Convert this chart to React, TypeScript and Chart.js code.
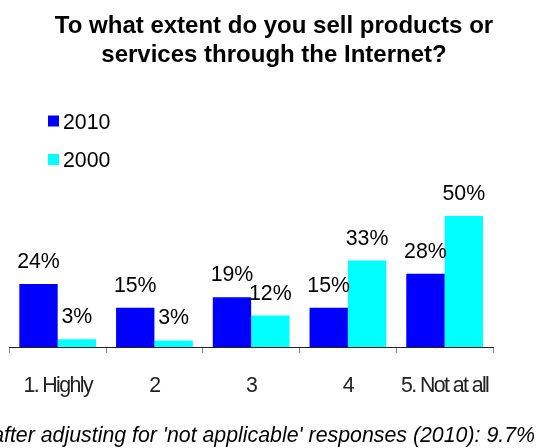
import React, { useEffect, useRef } from "react";
import { Chart, registerables } from "chart.js";

Chart.register(...registerables);

const categories = ["1. Highly", "2", "3", "4", "5. Not at all"];
const seriesLabels = ["2010", "2000"];
const values2010 = [24, 15, 19, 15, 28];
const values2000 = [3, 2.5, 12, 33, 50];
const titleLines = ["To what extent do you sell products or", "services through the Internet?"];
const footnote = "after adjusting for 'not applicable' responses (2010): 9.7%";

const SANS = '"Liberation Sans", Arial, sans-serif';

const decorPlugin = {
  id: "decor",
  beforeDraw(chart: any) {
    // narrow look for the category labels (reference uses a condensed face)
    (chart.ctx as any).letterSpacing = "-1.6px";
  },
  afterDraw(chart: any) {
    const ctx = chart.ctx as CanvasRenderingContext2D;
    ctx.save();
    (ctx as any).letterSpacing = "0px";
    ctx.fillStyle = "#000";
    ctx.textBaseline = "alphabetic";
    // title
    ctx.font = `bold 24px ${SANS}`;
    ctx.textAlign = "center";
    titleLines.forEach((l, i) => ctx.fillText(l, 274, 33 + i * 28.5));
    // legend
    ctx.font = `21.33px ${SANS}`;
    ctx.textAlign = "left";
    chart.data.datasets.forEach((ds: any, i: number) => {
      const y = 128.5 + i * 38.5;
      ctx.fillStyle = ds.backgroundColor;
      ctx.fillRect(48, y - 13, 11, 11);
      ctx.fillStyle = "#000";
      ctx.fillText(ds.label, 63, y);
    });
    // value labels
    ctx.textAlign = "center";
    chart.data.datasets.forEach((ds: any, i: number) => {
      const meta = chart.getDatasetMeta(i);
      meta.data.forEach((bar: any, j: number) => {
        ctx.fillText(`${Math.round(ds.data[j])}%`, bar.x, bar.y - 16);
      });
    });
    // footnote
    ctx.font = `italic 21.33px ${SANS}`;
    ctx.textAlign = "right";
    ctx.fillText(footnote, 535, 441.7);
    ctx.restore();
  },
};

export default function App() {
  const ref = useRef<HTMLCanvasElement | null>(null);
  useEffect(() => {
    if (!ref.current) return;
    const chart = new Chart(ref.current, {
      type: "bar",
      data: {
        labels: categories,
        datasets: [
          {
            label: seriesLabels[0],
            data: values2010,
            backgroundColor: "#0000FF",
            borderWidth: 0,
            categoryPercentage: 0.793,
            barPercentage: 1,
          },
          {
            label: seriesLabels[1],
            data: values2000,
            backgroundColor: "#00FFFF",
            borderWidth: 0,
            categoryPercentage: 0.793,
            barPercentage: 1,
          },
        ],
      },
      options: {
        responsive: false,
        animation: false,
        layout: { padding: { top: 189.8, left: 9.3, right: 47, bottom: 0 } },
        plugins: {
          legend: { display: false },
          title: { display: false },
          tooltip: { enabled: false },
        },
        scales: {
          x: {
            grid: {
              display: true,
              drawOnChartArea: false,
              drawTicks: true,
              tickLength: 6,
              color: "#888",
              offset: true,
            },
            border: { display: true, color: "#222", width: 1 },
            ticks: {
              font: { family: SANS, size: 21.33 },
              color: "#222",
              padding: 20,
              maxRotation: 0,
              autoSkip: false,
            },
            afterFit: (s: any) => {
              s.height = 101;
              s.paddingLeft = 0;
              s.paddingRight = 0;
            },
          },
          y: { display: false, min: 0, max: 60 },
        },
      },
      plugins: [decorPlugin],
    });
    return () => chart.destroy();
  }, []);
  return (
    <div style={{ position: "absolute", left: 0, top: 0, width: 540, height: 448, background: "#fff" }}>
      <canvas ref={ref} width={540} height={448} />
    </div>
  );
}
